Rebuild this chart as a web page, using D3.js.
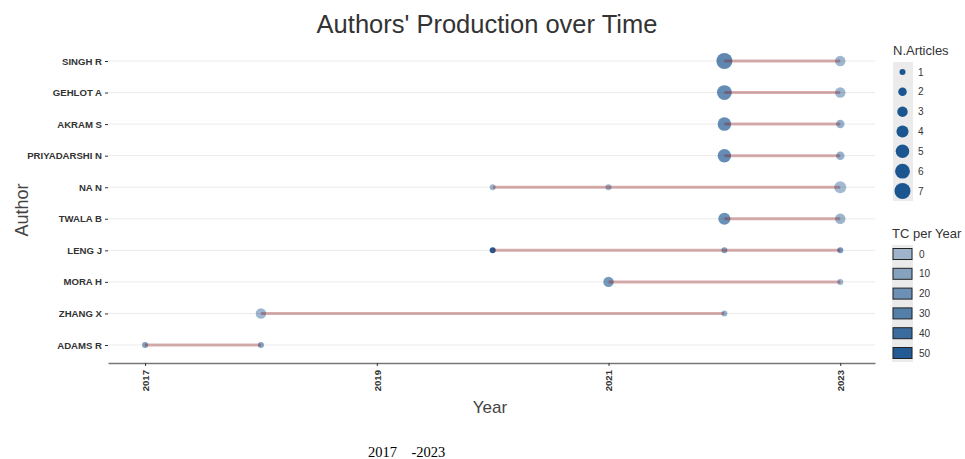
<!DOCTYPE html>
<html>
<head>
<meta charset="utf-8">
<script src="https://cdn.jsdelivr.net/npm/d3@7"></script>
<style>
body { margin: 0; background: #fff; }
svg { display: block; font-family: "Liberation Sans", Arial, sans-serif; }
</style>
</head>
<body>
<div id="chart"></div>
<script>
var width = 965;
var height = 459;

// authors, top to bottom
var authors = ["SINGH R", "GEHLOT A", "AKRAM S", "PRIYADARSHI N", "NA N",
               "TWALA B", "LENG J", "MORA H", "ZHANG X", "ADAMS R"];

// one entry per point: author index, year, articles, TC per year
var ptAuthor = [0, 0, 1, 1, 2, 2, 3, 3, 4, 4, 4, 5, 5, 6, 6, 6, 7, 7, 8, 8, 9, 9];
var ptYear   = [2022, 2023, 2022, 2023, 2022, 2023, 2022, 2023, 2020, 2021, 2023,
                2022, 2023, 2020, 2022, 2023, 2021, 2023, 2018, 2022, 2017, 2018];
var ptFreq   = [7, 3, 6, 3, 5, 2, 5, 2, 1, 1, 4, 4, 3, 1, 1, 1, 3, 1, 3, 1, 1, 1];
var ptTc     = [28, 5, 26, 5, 26, 8, 26, 8, 5, 6, 3, 24, 6, 52, 14, 20, 20, 6, 5, 8, 16, 14];

var xTicks = [2017, 2019, 2021, 2023];
var sizeLegend = [1, 2, 3, 4, 5, 6, 7];
var tcLegend = [0, 10, 20, 30, 40, 50];

var margin = {top: 45, right: 90, bottom: 96, left: 108};

var points = ptYear.map(function(y, i) {
    return {author: authors[ptAuthor[i]], year: y, freq: ptFreq[i], tc: ptTc[i]};
});

var svg = d3.select("#chart").append("svg")
    .attr("width", width)
    .attr("height", height);

var x = d3.scaleLinear()
    .domain([2016.68, 2023.3])
    .range([margin.left, width - margin.right]);

var y = d3.scalePoint()
    .domain(authors)
    .range([61, 345]);

var r2 = d3.scaleLinear().domain([1, 7]).range([9, 64]);
function rad(n) { return Math.sqrt(r2(n)); }

var alpha = d3.scaleLinear().domain([0, 50]).range([0.35, 0.92]).clamp(true);
var ptColor = "#104E8B";

// gridlines
svg.append("g")
    .selectAll("line")
    .data(authors)
    .join("line")
    .attr("x1", margin.left)
    .attr("x2", width - margin.right)
    .attr("y1", d => y(d))
    .attr("y2", d => y(d))
    .style("stroke", "#ebebeb")
    .style("stroke-width", 1);

// points
svg.append("g")
    .selectAll("circle")
    .data(points)
    .join("circle")
    .attr("cx", d => x(d.year))
    .attr("cy", d => y(d.author))
    .attr("r", d => rad(d.freq))
    .style("fill", ptColor)
    .style("fill-opacity", d => alpha(d.tc));

// segments per author
var spans = authors.map(function(a) {
    var yrs = points.filter(p => p.author === a).map(p => p.year);
    return {author: a, min: d3.min(yrs), max: d3.max(yrs)};
});
svg.append("g")
    .selectAll("line")
    .data(spans)
    .join("line")
    .attr("x1", d => x(d.min))
    .attr("x2", d => x(d.max))
    .attr("y1", d => y(d.author))
    .attr("y2", d => y(d.author))
    .style("stroke", "#8b1a1a")
    .style("stroke-opacity", 0.35)
    .style("stroke-width", 3);

// y axis
var yAxis = svg.append("g")
    .attr("transform", "translate(" + margin.left + ",0)")
    .call(d3.axisLeft(y).tickSize(3).tickPadding(3));
yAxis.select(".domain").remove();
yAxis.selectAll("line").style("stroke", "#333");
yAxis.selectAll("text")
    .style("font-size", "9.6px")
    .style("font-weight", "bold")
    .style("fill", "#333");

// x axis
var xAxis = svg.append("g")
    .attr("transform", "translate(0," + 363 + ")")
    .call(d3.axisBottom(x).tickValues(xTicks).tickFormat(d3.format("d")).tickSize(3).tickSizeOuter(0));
xAxis.select(".domain").style("stroke", "#777").style("stroke-width", 1.3);
xAxis.selectAll("line").style("stroke", "#333");
xAxis.selectAll("text")
    .attr("transform", "rotate(-90)")
    .attr("x", -7)
    .attr("y", 0)
    .attr("dy", "0.35em")
    .style("text-anchor", "end")
    .style("font-size", "9.6px")
    .style("font-weight", "bold")
    .style("fill", "#333");

// titles
svg.append("text")
    .attr("x", 487)
    .attr("y", 33)
    .attr("text-anchor", "middle")
    .style("font-size", "25.5px")
    .style("fill", "#333")
    .text("Authors' Production over Time");

svg.append("text")
    .attr("x", 490)
    .attr("y", 413)
    .attr("text-anchor", "middle")
    .style("font-size", "17px")
    .style("fill", "#444")
    .text("Year");

svg.append("text")
    .attr("transform", "translate(28,210) rotate(-90)")
    .attr("text-anchor", "middle")
    .style("font-size", "18px")
    .style("fill", "#444")
    .text("Author");

// legend: N.Articles
var lg1 = svg.append("g").attr("transform", "translate(893,0)");
lg1.append("text")
    .attr("x", 0).attr("y", 55)
    .style("font-size", "13px").style("fill", "#333")
    .text("N.Articles");
var ly1 = d3.scalePoint().domain(sizeLegend).range([72, 191]);
lg1.append("rect")
    .attr("x", 0).attr("y", 62).attr("width", 20).attr("height", 139)
    .style("fill", "#ebebeb");
lg1.selectAll("circle")
    .data(sizeLegend)
    .join("circle")
    .attr("cx", 9.5)
    .attr("cy", d => ly1(d))
    .attr("r", d => rad(d))
    .style("fill", ptColor)
    .style("fill-opacity", 0.95);
lg1.selectAll("text.lab")
    .data(sizeLegend)
    .join("text")
    .attr("class", "lab")
    .attr("x", 25)
    .attr("y", d => ly1(d))
    .attr("dy", "0.35em")
    .style("font-size", "10px").style("fill", "#333")
    .text(d => d);

// legend: TC per Year
var lg2 = svg.append("g").attr("transform", "translate(892,0)");
lg2.append("text")
    .attr("x", 0).attr("y", 238)
    .style("font-size", "13px").style("fill", "#333")
    .text("TC per Year");
var ly2 = d3.scalePoint().domain(tcLegend).range([254, 353]);
lg2.append("rect")
    .attr("x", 0).attr("y", 245).attr("width", 21).attr("height", 117)
    .style("fill", "#ebebeb");
lg2.selectAll("rect.key")
    .data(tcLegend)
    .join("rect")
    .attr("class", "key")
    .attr("x", 1)
    .attr("y", d => ly2(d) - 5.5)
    .attr("width", 19)
    .attr("height", 11)
    .style("fill", ptColor)
    .style("fill-opacity", d => alpha(d))
    .style("stroke", "#222")
    .style("stroke-width", 1);
lg2.selectAll("text.lab")
    .data(tcLegend)
    .join("text")
    .attr("class", "lab")
    .attr("x", 27)
    .attr("y", d => ly2(d))
    .attr("dy", "0.35em")
    .style("font-size", "10px").style("fill", "#333")
    .text(d => d);

// caption below
svg.append("text")
    .attr("x", 368)
    .attr("y", 457)
    .style("font-family", "'Liberation Serif', 'Times New Roman', serif")
    .style("font-size", "14.5px")
    .style("fill", "#000")
    .attr("xml:space", "preserve")
    .style("white-space", "pre")
    .text("2017    -2023");
</script>
</body>
</html>
